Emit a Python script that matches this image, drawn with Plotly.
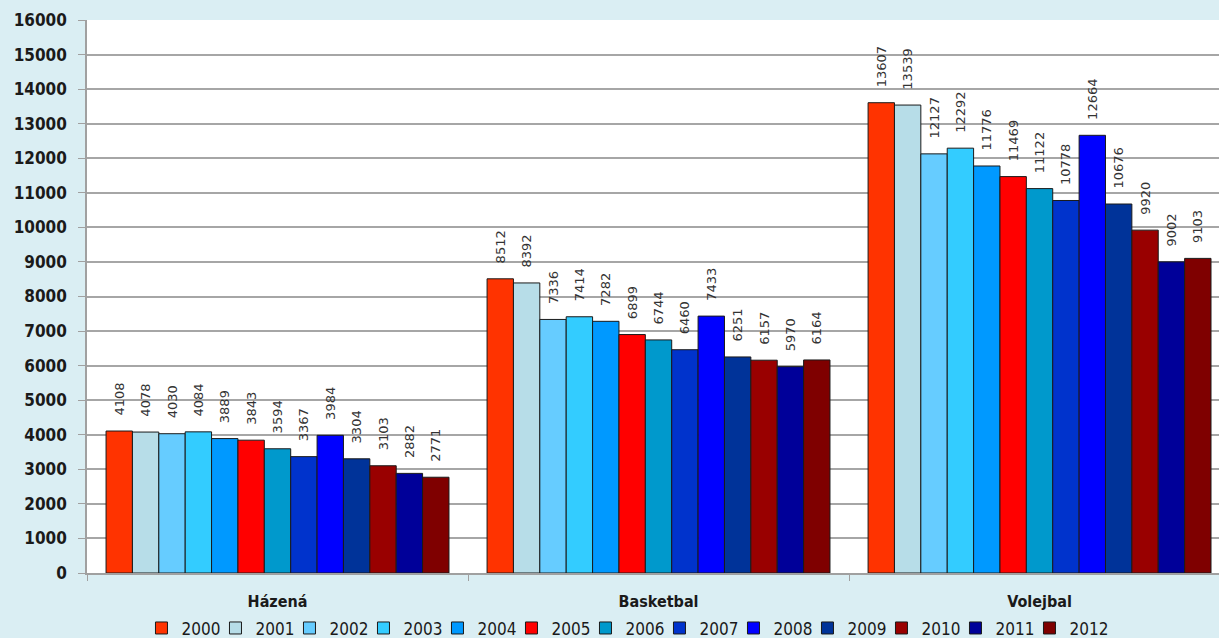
import plotly.graph_objects as go

categories = ["Házená", "Basketbal", "Volejbal"]
years = ["2000", "2001", "2002", "2003", "2004", "2005", "2006",
         "2007", "2008", "2009", "2010", "2011", "2012"]
hazena = [4108, 4078, 4030, 4084, 3889, 3843, 3594, 3367, 3984, 3304, 3103, 2882, 2771]
basketbal = [8512, 8392, 7336, 7414, 7282, 6899, 6744, 6460, 7433, 6251, 6157, 5970, 6164]
volejbal = [13607, 13539, 12127, 12292, 11776, 11469, 11122, 10778, 12664, 10676, 9920, 9002, 9103]
colors = ["#FF3300", "#B7DDE8", "#66CCFF", "#33CCFF", "#0099FF", "#FF0000", "#0099CC",
          "#0033CC", "#0000FF", "#003399", "#990000", "#000099", "#7F0000"]

fig = go.Figure()
for i, yr in enumerate(years):
    vals = [hazena[i], basketbal[i], volejbal[i]]
    fig.add_trace(go.Bar(
        name=yr, x=categories, y=vals,
        marker=dict(color=colors[i], line=dict(color="#1a1a1a", width=1)),
        text=[str(v) for v in vals],
        texttemplate="\u00a0\u00a0\u00a0%{text}",
        textposition="outside", textangle=-90, constraintext="none",
        outsidetextfont=dict(family="DejaVu Sans", size=13, color="#333333"),
        cliponaxis=False,
    ))

# invisible spacer entry so the last legend label is not clipped
fig.add_trace(go.Scatter(x=[categories[0]], y=[None], mode="markers", name=" ",
                         marker=dict(color="rgba(0,0,0,0)", size=1,
                                     line=dict(width=0, color="rgba(0,0,0,0)")),
                         hoverinfo="skip"))

fig.update_layout(
    width=1219, height=638,
    barmode="group", bargap=0.1, bargroupgap=0,
    paper_bgcolor="#DAEEF3", plot_bgcolor="#FFFFFF",
    margin=dict(l=87, r=0, t=20, b=65, autoexpand=False),
    showlegend=True,
    legend=dict(orientation="h", xref="container", yref="container",
                x=0.541, xanchor="center", y=0.015, yanchor="middle",
                font=dict(family="DejaVu Sans Condensed", size=17, color="#1a1a1a"),
                bgcolor="rgba(0,0,0,0)", entrywidth=29, entrywidthmode="pixels",
                itemwidth=30, tracegroupgap=0),
    xaxis=dict(range=[-0.5, 2.471], showline=True, linecolor="#A0A0A0", linewidth=1.5,
               ticks="outside", tickson="boundaries", ticklen=6, tickcolor="#A0A0A0",
               tickfont=dict(family="DejaVu Sans Condensed", size=16, color="#1a1a1a", weight="bold"),
               ticklabelstandoff=13, showgrid=False, automargin=False),
    yaxis=dict(range=[0, 16000], dtick=1000, tickformat="d", showline=True,
               linecolor="#A0A0A0", linewidth=1.5,
               ticks="outside", ticklen=7, tickcolor="#A0A0A0",
               showgrid=True, gridcolor="#A6A6A6", gridwidth=1.5, zeroline=False,
               tickfont=dict(family="DejaVu Sans Condensed", size=17, color="#1a1a1a", weight="bold"),
               ticklabelstandoff=8, automargin=False),
)

fig.write_html("out.html", config={"displayModeBar": False},
               post_script="document.body.style.margin='0';")
